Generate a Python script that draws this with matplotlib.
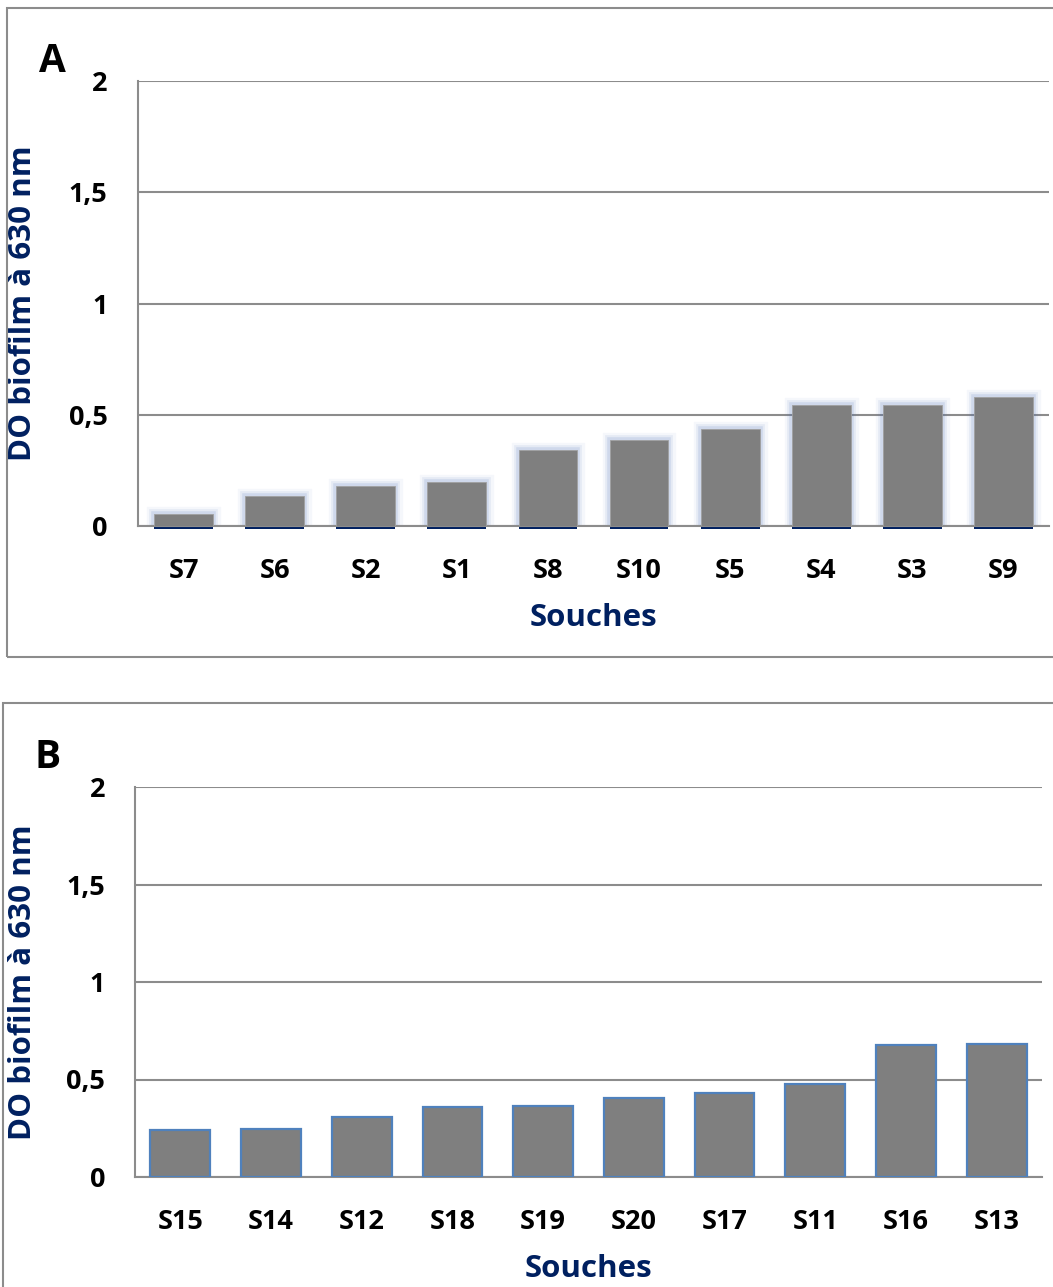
import matplotlib.pyplot as plt
from matplotlib.patches import Rectangle
import numpy as np

plt.rcParams['font.family'] = ['Open Sans', 'DejaVu Sans']

souches_a = ['S7', 'S6', 'S2', 'S1', 'S8', 'S10', 'S5', 'S4', 'S3', 'S9']
do_a = [0.054, 0.135, 0.18, 0.20, 0.34, 0.385, 0.435, 0.545, 0.545, 0.58]

souches_b = ['S15', 'S14', 'S12', 'S18', 'S19', 'S20', 'S17', 'S11', 'S16', 'S13']
do_b = [0.24, 0.246, 0.31, 0.36, 0.364, 0.405, 0.43, 0.477, 0.677, 0.68]

yticks = [0, 0.5, 1, 1.5, 2]
ytick_labels = ['0', '0,5', '1', '1,5', '2']

W, H = 1053, 1287
GRAY = '#8c8c8c'
NAVY = '#002060'
BAR = '#7f7f7f'

fig = plt.figure(figsize=(W / 100, H / 100), dpi=100)


def fx(x):
    return x / W


def fy(y):
    return 1 - y / H


def panel_box(x0, y0, x1, y1):
    fig.patches.append(Rectangle((fx(x0), fy(y1)), fx(x1) - fx(x0), fy(y0) - fy(y1),
                                 transform=fig.transFigure, fill=False,
                                 edgecolor=GRAY, linewidth=1.5))


def draw_panel(rect, names, vals, letter, letter_xy, glow, ypad):
    left, top, right, bottom = rect
    ax = fig.add_axes([fx(left), fy(bottom), fx(right) - fx(left), fy(top) - fy(bottom)])
    x = np.arange(len(names))
    if glow:
        # soft bluish glow around the bars, like the original
        for lw, a in [(11, 0.05), (7, 0.09), (4, 0.14)]:
            ax.bar(x, vals, width=0.645, color='none', edgecolor='#4a6fb5',
                   linewidth=lw, alpha=a, zorder=2)
        ax.bar(x, [-0.012] * len(vals), width=0.645, color=NAVY, zorder=2, clip_on=False)
        ax.bar(x, vals, width=0.645, color=BAR, edgecolor='#a0a0a0', linewidth=0.6, zorder=3)
    else:
        ax.bar(x, vals, width=0.66, color=BAR, edgecolor='#4f81bd', linewidth=1.6, zorder=3)
    ax.set_xlim(-0.5, len(names) - 0.5)
    ax.set_ylim(0, 2)
    ax.set_yticks(yticks)
    ax.set_yticklabels(ytick_labels, fontsize=19.5, fontweight='bold')
    ax.set_xticks(x)
    ax.set_xticklabels(names, fontsize=19.5, fontweight='bold')
    ax.tick_params(axis='y', length=0, pad=ypad)
    ax.tick_params(axis='x', length=0, pad=23)
    ax.grid(axis='y', color=GRAY, linewidth=1.5, zorder=1)
    ax.set_axisbelow(True)
    for s in ['top', 'right']:
        ax.spines[s].set_visible(False)
    for s in ['left', 'bottom']:
        ax.spines[s].set_color(GRAY)
        ax.spines[s].set_linewidth(1.5)
    ax.set_xlabel('Souches', fontsize=22.5, fontweight='bold', color=NAVY, labelpad=14)
    ax.set_ylabel('DO biofilm à 630 nm', fontsize=22.5, fontweight='bold', color=NAVY)
    fig.text(fx(letter_xy[0]), fy(letter_xy[1]), letter, fontsize=28, fontweight='bold',
             ha='center', va='center')
    return ax


panel_box(7, 8, 1060, 657)
panel_box(3, 703, 1060, 1300)

axa = draw_panel((138, 81, 1049, 526), souches_a, do_a, 'A', (52, 62), True, 22)
axb = draw_panel((135, 787, 1042, 1177), souches_b, do_b, 'B', (48, 757), False, 21.5)

for ax, left in [(axa, 138), (axb, 135)]:
    ax.yaxis.set_label_coords((38 - left) / (ax.get_position().width * W), 0.5)

fig.savefig('out.png', dpi=100)
